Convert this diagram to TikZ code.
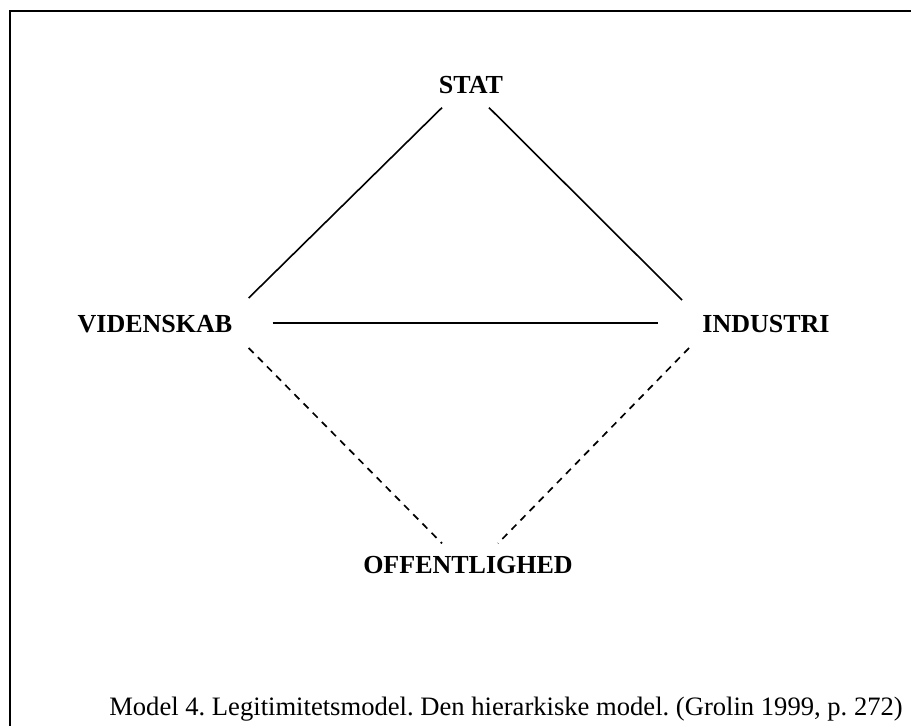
\documentclass[tikz,border=0pt]{standalone}
\usepackage{fontspec}
\setmainfont{Liberation Serif}
\usepackage{tikz}
\usetikzlibrary{calc}

\begin{document}
\frenchspacing
\begin{tikzpicture}[x=0.5pt,y=-0.5pt,
  actor/.style={inner sep=0pt,anchor=base,font=\fontsize{13}{15.6}\selectfont\bfseries},
  tie/.style={line width=0.8pt},
  loose/.style={line width=0.85pt,dash pattern=on 3.5pt off 3pt}]
\useasboundingbox (0,0) rectangle (911,726);
\draw[line width=1pt] (9.5,11.5) rectangle (1000,1000);
\node[actor] (stat) at (471,94) {STAT};
\node[actor] (vid) at (155,333) {VIDENSKAB};
\node[actor] (ind) at (766,333) {INDUSTRI};
\node[actor] (off) at (468,574) {OFFENTLIGHED};
\node[inner sep=0pt,anchor=base,font=\fontsize{13.3}{16}\selectfont] (cap) at (506,716)
  {Model 4. Legitimitetsmodel. Den hierarkiske model. (Grolin 1999, p. 272)};
\draw[tie] ($(stat.south)+(-29,13)$) -- ($(vid.base east)+(16,-35)$);
\draw[tie] ($(stat.south)+(18,13)$) -- ($(ind.base west)+(-20,-33)$);
\draw[tie] ($(vid.base east)+(40,-10)$) -- ($(ind.base west)+(-44,-10)$);
\draw[loose] ($(vid.base east)+(16,15)$) -- ($(off.north)+(-26,-13)$);
\draw[loose] ($(ind.base west)+(-13,15)$) -- ($(off.north)+(30,-13)$);
\end{tikzpicture}
\end{document}
